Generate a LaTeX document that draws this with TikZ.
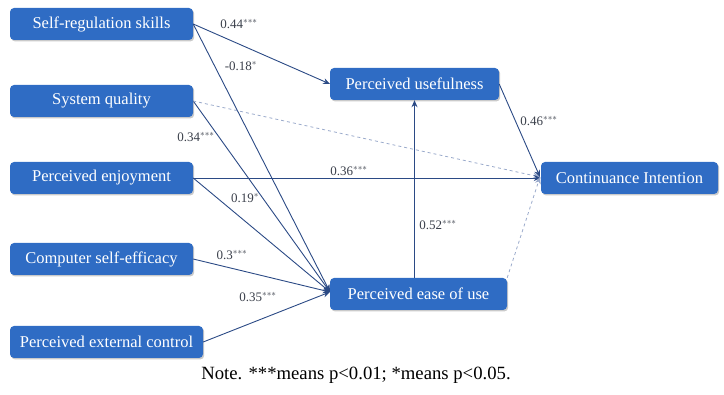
\documentclass[tikz,border=0pt]{standalone}
\usepackage{fontspec}
\setmainfont{Liberation Serif}
\usetikzlibrary{arrows.meta,shadows}
\definecolor{boxblue}{HTML}{2F6CC4}
\definecolor{arrowblue}{HTML}{2B4A85}
\definecolor{dashblue}{HTML}{9AAACB}
\definecolor{labgray}{HTML}{3A3F4A}
\tikzset{
  var/.style={draw=none, fill=boxblue, rounded corners=4pt, text=white,
    font=\fontsize{16.5}{18}\selectfont, minimum height=32pt, inner xsep=0pt,
    drop shadow={shadow xshift=1.2pt, shadow yshift=-1.5pt, fill=black!35, opacity=0.6}},
  path/.style={draw=arrowblue, line width=0.9pt, -{Stealth[length=7pt,width=6pt]}},
  ns/.style={draw=dashblue, line width=0.8pt, dashed, -{Stealth[length=7pt,width=6pt]}},
  coef/.style={text=labgray, font=\fontsize{13}{14}\selectfont, inner sep=0pt}
}
\begin{document}
\begin{tikzpicture}[x=1pt,y=-1pt]
\useasboundingbox (0,0) rectangle (724,395);
\node[var, minimum width=183pt] (srs) at (101.5,24) {Self-regulation skills};
\node[var, minimum width=183pt] (sq) at (101.5,101) {System quality};
\node[var, minimum width=183pt] (pe) at (101.5,178) {Perceived enjoyment};
\node[var, minimum width=183pt] (cse) at (101.5,259) {Computer self-efficacy};
\node[var, minimum width=193pt] (pec) at (106.5,342) {Perceived external control};
\node[var, minimum width=169pt] (pu) at (414.5,84) {Perceived usefulness};
\node[var, minimum width=177pt] (peou) at (418.5,294) {Perceived ease of use};
\node[var, minimum width=177pt] (ci) at (629.5,178) {Continuance Intention};
\coordinate (peouin) at (330,292);
\coordinate (ciin) at (540,177);
\coordinate (puin) at (330,84);
\draw[path] (srs.east) -- (puin);
\draw[path] (srs.east) -- (peouin);
\draw[path] (sq.east) -- (peouin);
\draw[ns] (sq.east) -- (ciin);
\draw[path] (pe.east) -- (ci.west);
\draw[path] (pe.east) -- (peouin);
\draw[path] (cse.east) -- (peouin);
\draw[path] (pec.east) -- (peouin);
\draw[path] (peou.north -| pu.south) -- (pu.south);
\draw[path] (pu.east) -- (ciin);
\draw[ns] (peou.north east) -- (ciin);
\node[coef] (l1) at (239,24) {0.44$^{***}$};
\node[coef] (l2) at (241,66) {-0.18$^{*}$};
\node[coef] (l3) at (196,137) {0.34$^{***}$};
\node[coef] (l4) at (349,171) {0.36$^{***}$};
\node[coef] (l5) at (245,198) {0.19$^{*}$};
\node[coef] (l6) at (232,255) {0.3$^{***}$};
\node[coef] (l7) at (258,297) {0.35$^{***}$};
\node[coef] (l8) at (539,121) {0.46$^{***}$};
\node[coef] (l9) at (438,225) {0.52$^{***}$};
\node[font=\fontsize{18.7}{20}\selectfont, text=black, inner sep=0pt] (note) at (356,375) {Note. ***means p<0.01; *means p<0.05.};
\end{tikzpicture}
\end{document}
